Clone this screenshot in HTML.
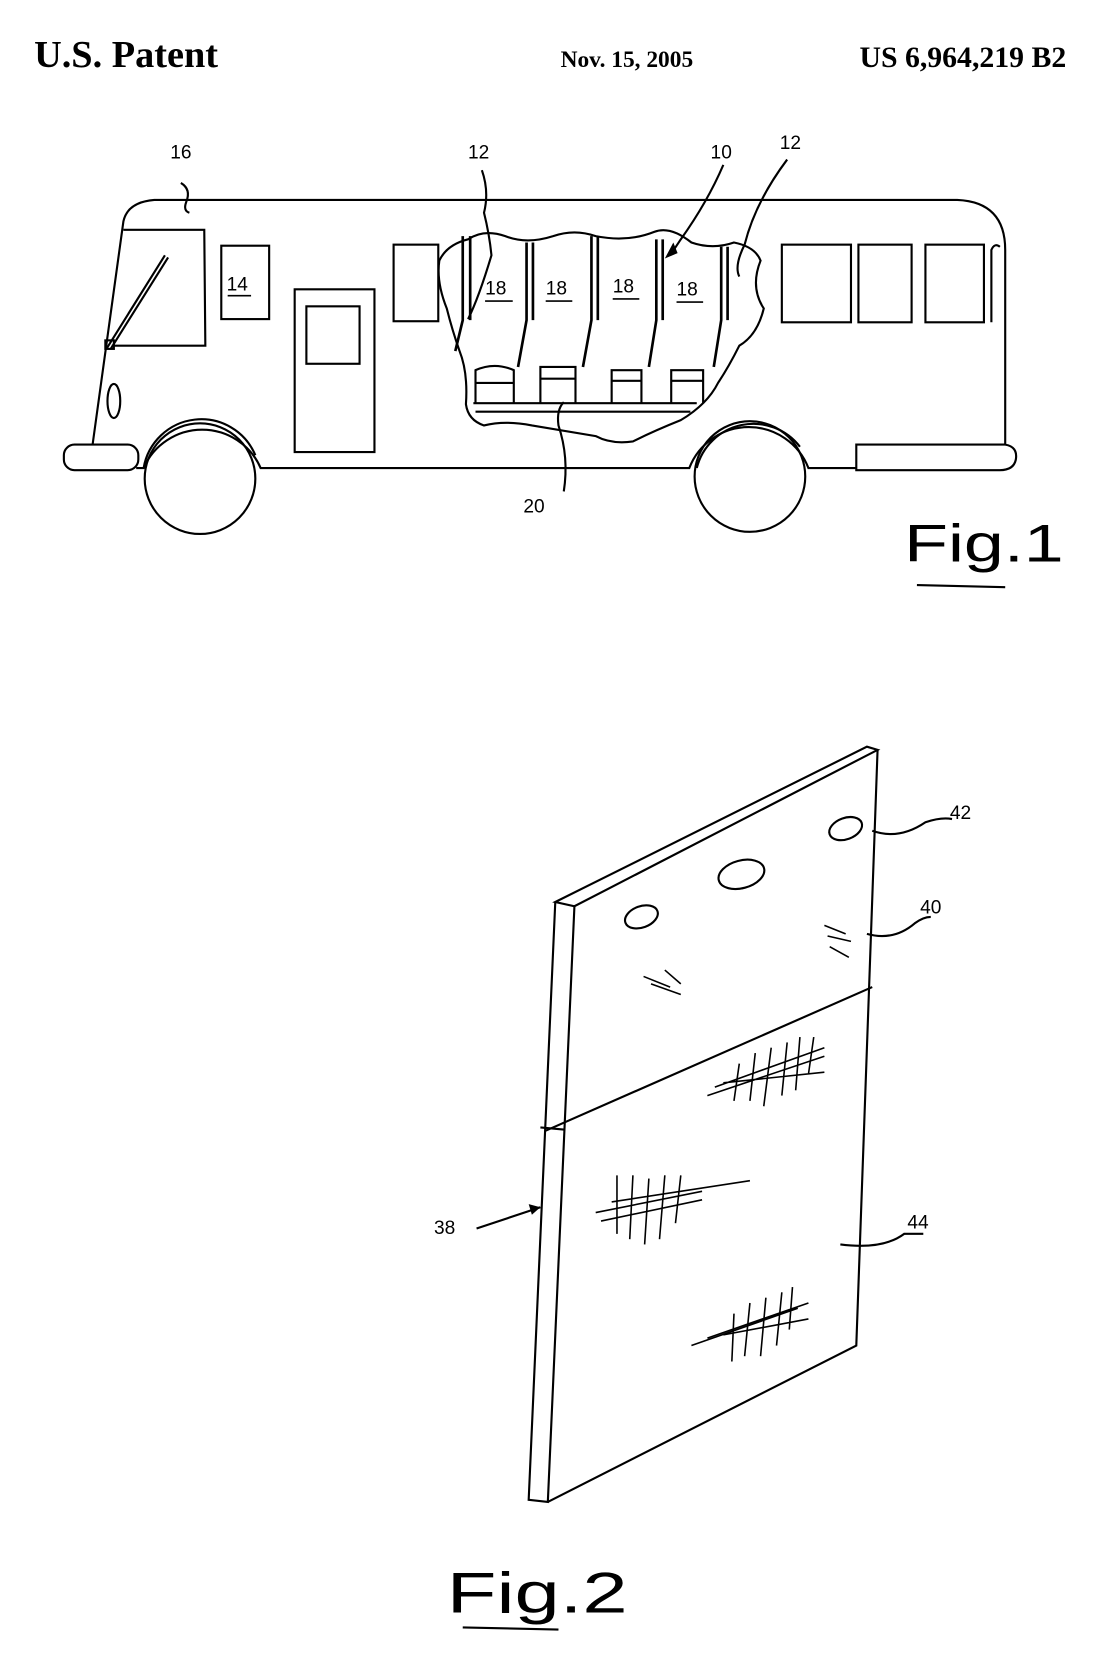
<!DOCTYPE html>
<html><head><meta charset="utf-8"><style>
html,body{margin:0;padding:0;background:#fff;}
svg{display:block;}
.h{font-family:"Liberation Serif",serif;font-weight:bold;fill:#000;}
.l{font-family:"Liberation Sans",sans-serif;font-size:18px;fill:#000;}
</style></head><body>
<svg width="1118" height="1654" viewBox="0 0 1051 1555" xmlns="http://www.w3.org/2000/svg">
<text class="h" x="32" y="63" font-size="36">U.S. Patent</text>
<text class="h" x="527" y="63" font-size="22" font-weight="normal">Nov. 15, 2005</text>
<text class="h" x="808" y="63" font-size="28">US 6,964,219 B2</text>

<g fill="none" stroke="#000" stroke-width="2">
<path d="M87 418 L116 208 Q120 190 145 188 L900 188 Q945 190 945 235 L945 418"/>
<path d="M128 440 L135 440 A60 60 0 0 1 245 440 L648 440 A60 60 0 0 1 760 440 L805 440"/>
<path d="M135 440 A55 55 0 0 1 240 428 M655 440 A55 55 0 0 1 752 420"/>
<rect x="60" y="418" width="70" height="24" rx="10"/>
<path d="M805 442 L805 418 L945 418 Q957 420 955 432 Q953 442 940 442 Z"/>
<circle cx="188" cy="450" r="52"/>
<circle cx="705" cy="448" r="52"/>
<path d="M116 216 L192 216 L193 325 L105 325"/>
<path d="M100 328 L155 240 M104 328 L158 242"/>
<rect x="99" y="320" width="8" height="8"/>
<ellipse cx="107" cy="377" rx="6" ry="16"/>
<rect x="208" y="231" width="45" height="69"/>
<rect x="277" y="272" width="75" height="153"/>
<rect x="288" y="288" width="50" height="54"/>
<rect x="370" y="230" width="42" height="72"/>
<rect x="735" y="230" width="65" height="73"/>
<rect x="807" y="230" width="50" height="73"/>
<rect x="870" y="230" width="55" height="73"/>
<path d="M932 303 L932 235 Q935 228 940 232"/>
<path fill="#fff" d="M413 245 Q420 230 440 225 Q455 215 475 222 Q495 230 520 222 Q540 215 560 222 Q590 228 615 218 Q630 212 650 228 Q670 235 690 228 Q710 232 715 245 Q705 270 718 290 Q712 315 695 325 Q685 345 675 360 Q665 380 640 395 Q615 405 595 415 Q575 418 560 410 Q530 405 500 400 Q475 395 455 400 Q440 395 438 380 Q440 350 432 330 Q425 310 420 290 Q410 265 413 245 Z"/>
<g stroke-width="2.5">
<path d="M435 222 L435 301 L428 330 M442 222 L442 301"/>
<path d="M495 228 L495 301 L487 345 M501 228 L501 301"/>
<path d="M556 222 L556 301 L548 345 M562 222 L562 301"/>
<path d="M617 225 L617 301 L610 345 M623 225 L623 301"/>
<path d="M678 232 L678 301 L671 345 M684 232 L684 301"/>
</g>
<path d="M447 379 L447 348 Q465 340 483 348 L483 379 M447 360 L483 360"/>
<path d="M508 379 L508 345 L541 345 L541 379 M508 356 L541 356"/>
<path d="M575 379 L575 348 L603 348 L603 379 M575 358 L603 358"/>
<path d="M631 379 L631 348 L661 348 L661 379 M631 358 L661 358"/>
<path d="M445 379 L655 379 M447 387 L649 387"/>
<path d="M170 172 Q180 178 175 190 Q172 198 178 200"/>
<path d="M453 160 Q460 180 455 200 Q460 220 462 240 Q450 280 440 300"/>
<path d="M680 155 Q665 190 640 225 L630 240"/>
<path d="M740 150 Q710 190 700 230 Q690 250 695 260"/>
<path d="M530 462 Q535 430 525 400 Q523 385 530 378"/>
</g>
<path d="M625 243 L633 228 L637 238 Z" fill="#000"/>
<g class="l">
<text x="160" y="149">16</text><text x="440" y="149">12</text><text x="668" y="149">10</text><text x="733" y="140">12</text>
<text x="492" y="482">20</text>
<text x="213" y="273">14</text><text x="456" y="277">18</text><text x="513" y="277">18</text><text x="576" y="275">18</text><text x="636" y="278">18</text>
</g>
<g stroke="#000" stroke-width="1.5"><path d="M214 278 L236 278 M456 283 L482 283 M513 283 L538 283 M576 281 L601 281 M636 284 L661 284"/></g>
<text x="850" y="528" font-family="Liberation Sans,sans-serif" font-size="50" fill="#000" textLength="150" lengthAdjust="spacingAndGlyphs">Fig.1</text>
<path d="M862 550 L945 552" stroke="#000" stroke-width="2"/>

<g fill="none" stroke="#000" stroke-width="2">
<path d="M522 848 L815 702 L825 705 L540 852 Z"/>
<path d="M522 848 L497 1410 L515 1412 L540 852"/>
<path d="M825 705 L805 1265 L515 1412"/>
<path d="M513 1063 L820 928"/>
<path d="M508 1060 L530 1062"/>
<ellipse cx="603" cy="862" rx="16" ry="10" transform="rotate(-20 603 862)"/>
<ellipse cx="697" cy="822" rx="22" ry="13" transform="rotate(-15 697 822)"/>
<ellipse cx="795" cy="779" rx="16" ry="10" transform="rotate(-20 795 779)"/>
<path d="M820 781 Q845 790 870 773 Q885 768 895 770"/>
<path d="M815 878 Q840 885 860 868 Q868 862 875 862"/>
<path d="M790 1170 Q830 1175 850 1160 L868 1160"/>
<path d="M448 1155 L508 1135"/>
<g stroke-width="1.5">
<path d="M672 1022 L775 985 M665 1030 L775 993 M680 1018 L775 1008 M695 1000 L690 1035 M710 990 L705 1035 M725 985 L718 1040 M740 980 L735 1030 M752 975 L748 1025 M765 975 L760 1010"/>
<path d="M560 1140 L660 1120 M565 1148 L660 1128 M575 1130 L705 1110 M580 1105 L580 1160 M595 1105 L592 1165 M610 1108 L606 1170 M625 1105 L620 1165 M640 1105 L635 1150"/>
<path d="M650 1265 L750 1230 M665 1258 L760 1225 M680 1255 L760 1240 M690 1235 L688 1280 M705 1225 L700 1275 M720 1220 L715 1275 M735 1215 L730 1265 M745 1210 L742 1250"/>
<path d="M605 918 L630 928 M612 925 L640 935 M625 912 L640 925 M775 870 L795 878 M778 880 L800 885 M780 890 L798 900"/>
</g>
</g>
<path d="M508 1135 L497 1132 L500 1142 Z" fill="#000"/>
<g class="l"><text x="893" y="770">42</text><text x="865" y="859">40</text><text x="408" y="1160">38</text><text x="853" y="1155">44</text></g>
<text x="420" y="1516" font-family="Liberation Sans,sans-serif" font-size="54" fill="#000" textLength="170" lengthAdjust="spacingAndGlyphs">Fig.2</text>
<path d="M435 1530 L525 1532" stroke="#000" stroke-width="2"/>
</svg>
</body></html>
